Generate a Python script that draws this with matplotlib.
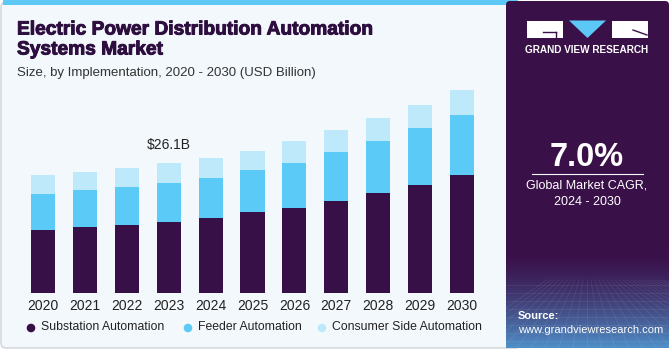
import matplotlib
matplotlib.use("Agg")
import matplotlib.pyplot as plt
import numpy as np
from matplotlib.patches import FancyBboxPatch, Rectangle, Polygon
from matplotlib.lines import Line2D
import matplotlib.patheffects as pe

years = ["2020", "2021", "2022", "2023", "2024", "2025", "2026", "2027", "2028", "2029", "2030"]
substation = [12.7, 13.3, 13.7, 14.2, 15.1, 16.2, 17.2, 18.6, 20.1, 21.8, 23.8]
feeder = [7.2, 7.4, 7.6, 8.0, 8.0, 8.45, 9.0, 9.7, 10.5, 11.3, 11.95]
consumer = [3.9, 3.7, 3.8, 3.9, 4.0, 4.0, 4.4, 4.4, 4.6, 4.8, 5.1]
series_names = ["Substation Automation", "Feeder Automation", "Consumer Side Automation"]
annot_label = "$26.1B"
annot_index = 3

C_SUB = "#371047"
C_FEED = "#5bcaf7"
C_CONS = "#bde9fa"
PURPLE = "#3a1049"
TITLE_C = "#2d0e3f"

W, H = 671, 350
fig = plt.figure(figsize=(W / 100, H / 100), dpi=100)
fig.patch.set_facecolor("white")
plt.rcParams["font.family"] = ["Liberation Sans", "DejaVu Sans"]

def fx(px):
    return px / W

def fy(py):
    return 1 - py / H

# background panel (left)
bg = fig.add_axes([0, 0, 1, 1])
bg.set_xlim(0, W)
bg.set_ylim(H, 0)
bg.axis("off")
bg.add_patch(FancyBboxPatch((1, 2), 520, 346, boxstyle="round,pad=0,rounding_size=5",
                            facecolor="#f3f8fc", edgecolor="#cfd3d8", linewidth=1.0))
bg.add_patch(Rectangle((3, 0), 515, 5, facecolor="#5bc8f5", edgecolor="none"))

# right panel
bg.add_patch(FancyBboxPatch((506, 1), 163, 347, boxstyle="round,pad=0,rounding_size=4",
                            facecolor=PURPLE, edgecolor="none"))
# gradient at bottom of right panel
grad = np.linspace(0, 1, 100)[:, None]
c0 = np.array(matplotlib.colors.to_rgb(PURPLE))
c1 = np.array(matplotlib.colors.to_rgb("#4f8fc8"))
img = c0[None, None, :] * (1 - grad[..., None] ** 1.5) + c1[None, None, :] * (grad[..., None] ** 1.5)
img = np.repeat(img, 2, axis=1)
bg.imshow(img, extent=(506, 669, 348, 250), aspect="auto", zorder=1)
# faint grid in gradient area
for i in range(8):
    yy = 285 + i * 8
    bg.add_line(Line2D([506, 669], [yy, yy], color="white", alpha=0.08, lw=0.6, zorder=2))
for i in range(-10, 20):
    x0 = 587 + i * 14
    bg.add_line(Line2D([587 + i * 4, x0], [280, 348], color="white", alpha=0.08, lw=0.6, zorder=2))

# logo
bg.add_patch(Rectangle((527, 20.5), 36, 17.5, facecolor="white", edgecolor="none", zorder=3))
bg.add_line(Line2D([543, 556], [32, 32], color=PURPLE, lw=1.0, zorder=4))
bg.add_line(Line2D([556, 556], [32, 38], color=PURPLE, lw=1.0, zorder=4))
bg.add_patch(Polygon([[569, 20.5], [606, 20.5], [587.5, 38]], closed=True,
                     facecolor="#5bc8f5", edgecolor="none", zorder=3))
bg.add_patch(Rectangle((612, 20.5), 35.5, 17.5, facecolor="white", edgecolor="none", zorder=3))
bg.add_line(Line2D([633, 647], [30, 35], color=PURPLE, lw=1.0, zorder=4))
bg.text(587, 50, "GRAND VIEW RESEARCH", color="white", fontsize=7.2, fontweight="bold",
        ha="center", va="center", zorder=4)

bg.text(587, 157, "7.0%", color="white", fontsize=23.5, fontweight="bold", ha="center", va="center", zorder=4)
bg.add_line(Line2D([532, 643], [173.5, 173.5], color="white", lw=0.8, zorder=4))
bg.text(587, 186, "Global Market CAGR,", color="white", fontsize=9, ha="center", va="center", zorder=4)
bg.text(587, 202, "2024 - 2030", color="white", fontsize=9, ha="center", va="center", zorder=4)
bg.text(518, 316, "Source:", color="white", fontsize=8, fontweight="bold", ha="left", va="center", zorder=4)
bg.text(518, 330, "www.grandviewresearch.com", color="white", fontsize=8, ha="left", va="center", zorder=4)

# titles
thick = [pe.withStroke(linewidth=0.7, foreground=TITLE_C)]
bg.text(17, 30, "Electric Power Distribution Automation", color=TITLE_C, fontsize=13.8,
        fontweight="bold", ha="left", va="center", path_effects=thick)
bg.text(17, 50, "Systems Market", color=TITLE_C, fontsize=13.8, fontweight="bold", ha="left", va="center",
        path_effects=thick)
bg.text(17, 73, "Size, by Implementation, 2020 - 2030 (USD Billion)", color="#333333", fontsize=9.5,
        ha="left", va="center")

# bar axes
left_px, right_px = 22.0, 483.0
top_px, base_px = 80.0, 293.0
ax = fig.add_axes([fx(left_px), fy(base_px), fx(right_px - left_px), (base_px - top_px) / H])
ax.set_facecolor("none")
x = np.arange(len(years))
bw = 0.573
sub = np.array(substation)
fed = np.array(feeder)
con = np.array(consumer)
ax.bar(x, sub, bw, color=C_SUB, edgecolor="none")
ax.bar(x, fed, bw, bottom=sub, color=C_FEED, edgecolor="none")
ax.bar(x, con, bw, bottom=sub + fed, color=C_CONS, edgecolor="none")
ax.set_xlim(-0.5, len(years) - 0.5)
ax.set_ylim(0, (base_px - top_px) / 4.97)
for s in ax.spines.values():
    s.set_visible(False)
ax.set_yticks([])
ax.set_xticks(x)
ax.set_xticklabels(years, fontsize=10, color="#222222")
ax.tick_params(axis="x", length=0, pad=4)
tot = sub + fed + con
ax.text(annot_index, tot[annot_index] + 2.2, annot_label, ha="center", va="bottom", fontsize=10, color="#222222")

# legend
leg_items = [(26, series_names[0], C_SUB), (183, series_names[1], C_FEED), (317, series_names[2], C_CONS)]
for lx, name, col in leg_items:
    bg.add_patch(matplotlib.patches.Circle((lx + 5, 328), 4.3, facecolor=col, edgecolor="none"))
    bg.text(lx + 15, 327.5, name, fontsize=8.8, color="#222222", ha="left", va="center")

fig.savefig("out.png", dpi=100, facecolor=fig.get_facecolor())
